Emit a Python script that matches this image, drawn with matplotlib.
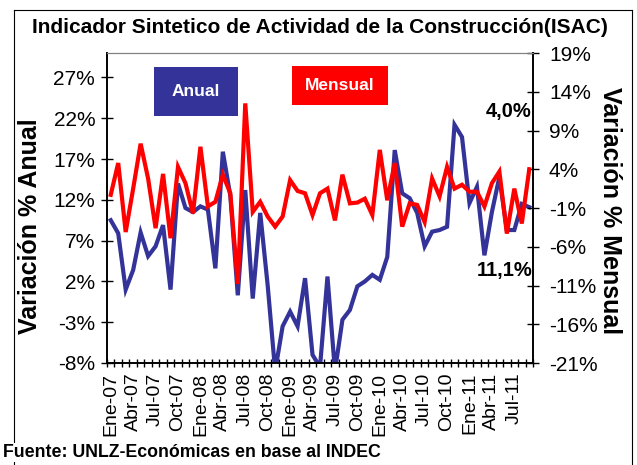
import numpy as np
import matplotlib
matplotlib.use('Agg')
import matplotlib.pyplot as plt
from matplotlib.patches import Rectangle
from matplotlib.lines import Line2D

plt.rcParams['font.family'] = ['Liberation Sans', 'DejaVu Sans']

# variación % anual (eje izquierdo), ene-07 .. sep-11
anual = [9.5, 7.9, 1.0, 3.4, 8.0, 5.1, 6.3, 8.9, 1.0, 14.0,
         11.0, 10.5, 11.2, 10.8, 3.6, 17.9, 12.5, 0.3, 13.2, -0.1,
         10.4, 1.5, -9.0, -3.5, -1.7, -3.5, 2.4, -7.0, -8.5, 2.6,
         -9.0, -2.7, -1.5, 1.4, 2.0, 2.8, 2.2, 5.0, 18.1, 12.8,
         12.2, 10.4, 6.3, 8.1, 8.3, 8.7, 21.2, 19.7, 11.6, 13.6,
         5.2, 10.5, 14.8, 8.3, 8.3, 11.5, 11.1]

# variación % mensual (eje derecho)
mensual = [0.7, 4.8, -4.1, 1.5, 7.3, 2.8, -3.6, 3.4, -4.9, 4.3,
           2.2, -1.7, 6.9, -0.8, -0.2, 3.3, 0.9, -10.8, 12.5, -1.5,
           -0.2, -2.1, -3.4, -2.1, 2.6, 1.2, 0.9, -1.9, 0.9, 1.5,
           -2.6, 3.3, -0.4, -0.3, 0.2, -1.9, 6.5, 0.0, 4.8, -3.4,
           -0.4, -0.6, -2.8, 2.8, 0.5, 4.3, 1.5, 2.0, 1.1, 1.1,
           -0.8, 2.2, 3.7, -4.3, 1.5, -3.0, 4.0]

meses = ['Ene', 'Abr', 'Jul', 'Oct']
anios = ['07', '08', '09', '10', '11']
etiquetas = [m + '-' + a for a in anios for m in meses][:19]

W, H = 637, 465


def fx(x):
    return x / W


def fy(y):
    return 1 - y / H


fig = plt.figure(figsize=(6.37, 4.65), dpi=100)
ax = fig.add_axes([fx(107), fy(363), (533 - 107) / W, (363 - 53) / H])
ax2 = ax.twinx()

azul = '#333399'
rojo = '#FF0000'
x = np.arange(len(anual))
ax.plot(x, anual, color=azul, lw=3.0, solid_joinstyle='miter')
ax2.plot(x, mensual, color=rojo, lw=3.0, solid_joinstyle='miter')

ax.set_xlim(-0.5, len(anual) - 0.5)
ax.set_ylim(-8, 30)
ax2.set_ylim(-21, 19)

ax.set_yticks(np.arange(-8, 28, 5))
ax.set_yticklabels(['%d%%' % v for v in np.arange(-8, 28, 5)], fontsize=15)
ax2.set_yticks(np.arange(-21, 20, 5))
ax2.set_yticklabels(['%d%%' % v for v in np.arange(-21, 20, 5)], fontsize=15)

ax.set_xticks(np.arange(0, len(anual), 3)[:len(etiquetas)])
ax.set_xticklabels(etiquetas, rotation=90, fontsize=14)
ax.set_xticks(np.arange(-0.5, len(anual), 1), minor=True)
ax.tick_params(axis='x', which='major', length=0, pad=7)
ax.tick_params(axis='x', which='minor', direction='inout', length=6, width=1)
ax.tick_params(axis='y', direction='inout', length=9, width=1, pad=4)
ax2.tick_params(axis='y', direction='inout', length=9, width=1, pad=7)

for a in (ax, ax2):
    a.spines['top'].set_color('#808080')
    for s in ('left', 'right', 'bottom'):
        a.spines[s].set_color('black')
        a.spines[s].set_linewidth(1.2)

# marco del gráfico
fig.add_artist(Line2D([fx(13.7), fx(13.7)], [fy(10), fy(465)], color='black', lw=0.8))
fig.add_artist(Line2D([fx(13.7), fx(632)], [fy(10), fy(10)], color='black', lw=0.8))
fig.add_artist(Line2D([fx(632), fx(632)], [fy(10), fy(465)], color='black', lw=0.8))

fig.text(fx(32), fy(33), 'Indicador Sintetico de Actividad de la Construcción(ISAC)',
         fontsize=15, fontweight='bold', ha='left', va='baseline')
fig.text(fx(30), fy(226), 'Variación % Anual', rotation=90, fontsize=18,
         fontweight='bold', ha='center', va='center')
fig.text(fx(610), fy(211), 'Variación % Mensual', rotation=270, fontsize=18,
         fontweight='bold', ha='center', va='center')

# recuadros de leyenda
fig.add_artist(Rectangle((fx(154), fy(116)), (238 - 154) / W, (116 - 67) / H,
                         transform=fig.transFigure, facecolor=azul, edgecolor='none'))
fig.text(fx(196), fy(91), 'Anual', color='white', fontsize=12.5, fontweight='bold',
         ha='center', va='center')
fig.add_artist(Rectangle((fx(292), fy(105)), (388 - 292) / W, (105 - 66) / H,
                         transform=fig.transFigure, facecolor=rojo, edgecolor='none'))
fig.text(fx(340), fy(85), 'Mensual', color='white', fontsize=12.5, fontweight='bold',
         ha='center', va='center')

fig.text(fx(531), fy(111), '4,0%', fontsize=14.5, fontweight='bold', ha='right', va='center')
fig.text(fx(532), fy(270), '11,1%', fontsize=14.5, fontweight='bold', ha='right', va='center')

fig.text(fx(3), fy(457), 'Fuente: UNLZ-Económicas en base al INDEC', fontsize=12.8,
         fontweight='bold', ha='left', va='baseline',
         bbox=dict(facecolor='white', edgecolor='none', pad=1))

fig.savefig('out.png', dpi=100)
